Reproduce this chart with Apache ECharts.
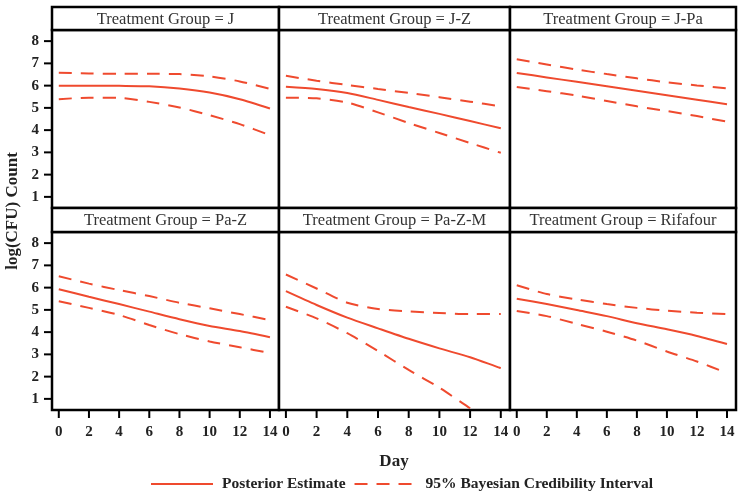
<!DOCTYPE html>
<html>
<head>
<meta charset="utf-8">
<script src="https://cdn.jsdelivr.net/npm/echarts@6/dist/echarts.min.js"></script>
<style>
  html, body { margin: 0; padding: 0; background: #fff; }
  #chart { width: 738px; height: 493px; }
</style>
</head>
<body>
<div id="chart"></div>
<script>
// Days on the x axis
const days = [0, 2, 4, 6, 8, 10, 12, 14];
const xTicks = [0, 2, 4, 6, 8, 10, 12, 14];
const yTicks = [1, 2, 3, 4, 5, 6, 7, 8];

// Treatment groups (panel order)
const groups = ['J', 'J-Z', 'J-Pa', 'Pa-Z', 'Pa-Z-M', 'Rifafour'];

// Posterior estimate and 95% credibility bounds
const estJ = [6.00, 6.00, 5.99, 5.97, 5.87, 5.69, 5.39, 4.97];
const upJ  = [6.58, 6.55, 6.53, 6.53, 6.52, 6.41, 6.19, 5.85];
const loJ  = [5.39, 5.46, 5.45, 5.27, 5.02, 4.67, 4.27, 3.77];

const estJZ = [5.95, 5.85, 5.67, 5.36, 5.04, 4.73, 4.41, 4.08];
const upJZ  = [6.44, 6.22, 6.03, 5.85, 5.67, 5.48, 5.28, 5.07];
const loJZ  = [5.46, 5.43, 5.24, 4.80, 4.32, 3.87, 3.42, 2.98];

const estJPa = [6.57, 6.37, 6.17, 5.97, 5.77, 5.57, 5.37, 5.16];
const upJPa  = [7.19, 6.95, 6.72, 6.52, 6.33, 6.15, 6.01, 5.88];
const loJPa  = [5.94, 5.75, 5.55, 5.31, 5.07, 4.86, 4.63, 4.38];

const estPaZ = [5.93, 5.59, 5.26, 4.92, 4.58, 4.28, 4.05, 3.77];
const upPaZ  = [6.51, 6.18, 5.89, 5.62, 5.32, 5.07, 4.81, 4.54];
const loPaZ  = [5.39, 5.09, 4.77, 4.32, 3.91, 3.58, 3.32, 3.06];

const estPaZM = [5.84, 5.22, 4.65, 4.17, 3.70, 3.27, 2.87, 2.38];
const upPaZM  = [6.59, 5.96, 5.32, 5.04, 4.93, 4.86, 4.81, 4.81];
const loPaZM  = [5.14, 4.62, 3.95, 3.15, 2.30, 1.50, 0.58, -0.30];

const estRif = [5.50, 5.26, 4.99, 4.72, 4.40, 4.13, 3.83, 3.47];
const upRif  = [6.11, 5.71, 5.47, 5.26, 5.09, 4.96, 4.87, 4.81];
const loRif  = [4.95, 4.72, 4.37, 4.02, 3.62, 3.13, 2.68, 2.16];

const panelData = [
  [estJ, upJ, loJ],
  [estJZ, upJZ, loJZ],
  [estJPa, upJPa, loJPa],
  [estPaZ, upPaZ, loPaZ],
  [estPaZM, upPaZM, loPaZM],
  [estRif, upRif, loRif]
];

// Layout
const colLeft = [52, 279, 510];
const colWidth = [227, 231, 226];
const headTop = [7, 208];
const headH = [23, 24];
const plotTop = [30, 232];
const plotH = 178;
const TICK = 7;
const X_MIN = -0.45, X_MAX = 14.6;
const Y_MIN = 0.5, Y_MAX = 8.5;

const RED = '#ef4a2e';
const FONT = 'Liberation Serif';
const labelStyle = { fontFamily: FONT, fontWeight: 'bold', fontSize: 15, color: '#222' };

const grids = [], xAxes = [], yAxes = [], series = [], graphics = [];

// Data panels: axes hidden, the grid border is the frame
groups.forEach((g, i) => {
  const r = Math.floor(i / 3), c = i % 3;
  grids.push({
    left: colLeft[c], top: plotTop[r], width: colWidth[c], height: plotH,
    show: true, borderColor: '#000', borderWidth: 2.5, backgroundColor: '#fff'
  });
  xAxes.push({
    type: 'value', gridIndex: i, min: X_MIN, max: X_MAX,
    axisLine: { show: false }, axisTick: { show: false }, axisLabel: { show: false }, splitLine: { show: false }
  });
  yAxes.push({
    type: 'value', gridIndex: i, min: Y_MIN, max: Y_MAX,
    axisLine: { show: false }, axisTick: { show: false }, axisLabel: { show: false }, splitLine: { show: false }
  });

  const [est, up, lo] = panelData[i];
  const mk = (vals, name, dashed) => ({
    name: name,
    type: 'line',
    xAxisIndex: i, yAxisIndex: i,
    data: days.map((d, k) => [d, vals[k]]),
    symbol: 'none',
    smooth: 0.25,
    clip: true,
    lineStyle: { color: RED, width: 2, type: dashed ? [13, 9] : 'solid' },
    itemStyle: { color: RED },
    z: 3
  });
  series.push(mk(est, 'Posterior Estimate', false));
  series.push(mk(up, '95% Bayesian Credibility Interval', true));
  series.push(mk(lo, '95% Bayesian Credibility Interval', true));

  // Header strip
  graphics.push({
    type: 'rect',
    shape: { x: colLeft[c], y: headTop[r], width: colWidth[c], height: headH[r] },
    style: { fill: '#fff', stroke: '#000', lineWidth: 2.5 },
    z: 10
  });
  graphics.push({
    type: 'text',
    x: colLeft[c] + colWidth[c] / 2, y: headTop[r] + headH[r] / 2 + 1,
    style: {
      text: 'Treatment Group = ' + g, align: 'center', verticalAlign: 'middle',
      font: '16.5px "' + FONT + '"', fill: '#333'
    },
    z: 11
  });
});

// Tick strips under the bottom row (axis spans exactly day 0..14);
// the ticks are rect symbols of a scatter series in each strip
[0, 1, 2].forEach(c => {
  const gi = grids.length;
  grids.push({
    left: colLeft[c] + (0 - X_MIN) / (X_MAX - X_MIN) * colWidth[c],
    width: 14 / (X_MAX - X_MIN) * colWidth[c],
    top: plotTop[1] + plotH + 1, height: TICK, show: false
  });
  xAxes.push({
    type: 'value', gridIndex: gi, min: 0, max: 14, interval: 2,
    axisLine: { show: false }, axisTick: { show: false },
    axisLabel: Object.assign({ show: true, margin: 7 }, labelStyle),
    splitLine: { show: false }
  });
  yAxes.push({ type: 'value', gridIndex: gi, show: false, min: 0, max: 1, splitLine: { show: false } });
  series.push({
    name: 'xtick' + c, type: 'scatter', xAxisIndex: gi, yAxisIndex: gi,
    data: xTicks.map(t => [t, 0.5]),
    symbol: 'rect', symbolSize: [2, TICK],
    itemStyle: { color: '#000', opacity: 1 },
    clip: false, silent: true, z: 20
  });
});

// Tick strips left of the first column (axis spans exactly 1..8)
[0, 1].forEach(r => {
  const gi = grids.length;
  grids.push({
    left: colLeft[0] - TICK - 1, width: TICK,
    top: plotTop[r] + (Y_MAX - 8) / (Y_MAX - Y_MIN) * plotH,
    height: 7 / (Y_MAX - Y_MIN) * plotH, show: false
  });
  xAxes.push({ type: 'value', gridIndex: gi, show: false, min: 0, max: 1, splitLine: { show: false } });
  yAxes.push({
    type: 'value', gridIndex: gi, min: 1, max: 8, interval: 1,
    axisLine: { show: false }, axisTick: { show: false },
    axisLabel: Object.assign({ show: true, margin: 5 }, labelStyle),
    splitLine: { show: false }
  });
  series.push({
    name: 'ytick' + r, type: 'scatter', xAxisIndex: gi, yAxisIndex: gi,
    data: yTicks.map(t => [0.5, t]),
    symbol: 'rect', symbolSize: [TICK, 2],
    itemStyle: { color: '#000', opacity: 1 },
    clip: false, silent: true, z: 20
  });
});

// Axis titles
graphics.push({
  type: 'text', x: 394, y: 462,
  style: { text: 'Day', align: 'center', verticalAlign: 'middle', font: 'bold 17px "' + FONT + '"', fill: '#222' }
});
graphics.push({
  type: 'text', x: 13, y: 211, rotation: Math.PI / 2,
  style: { text: 'log(CFU) Count', align: 'center', verticalAlign: 'middle', font: 'bold 17px "' + FONT + '"', fill: '#222' }
});

const chart = echarts.init(document.getElementById('chart'), null, { renderer: 'canvas' });
chart.setOption({
  animation: false,
  backgroundColor: '#fff',
  grid: grids,
  xAxis: xAxes,
  yAxis: yAxes,
  series: series,
  graphic: graphics,
  legend: {
    data: ['Posterior Estimate', '95% Bayesian Credibility Interval'],
    left: 145, top: 471,
    itemWidth: 62, itemHeight: 12, itemGap: 8,
    itemStyle: { opacity: 0 },
    textStyle: { fontFamily: FONT, fontWeight: 'bold', fontSize: 15.5, color: '#222', padding: [0, 0, 0, 4] }
  }
});
</script>
</body>
</html>
